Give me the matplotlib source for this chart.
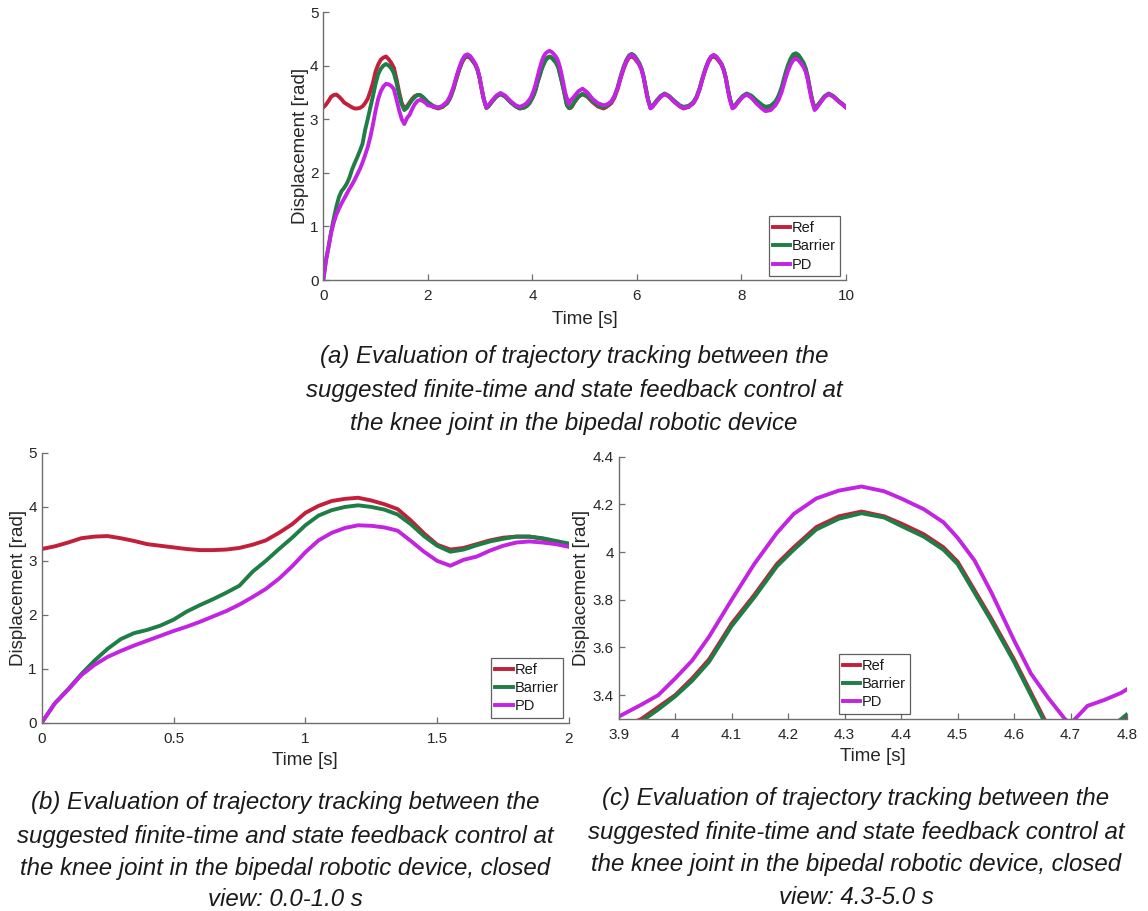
import matplotlib
matplotlib.use('Agg')
import matplotlib.pyplot as plt
from matplotlib.ticker import FormatStrFormatter

plt.rcParams['font.family'] = ['Liberation Sans', 'DejaVu Sans']

# ---------------- data ----------------
time_s = [
    0.00, 0.05, 0.10, 0.15, 0.20, 0.25, 0.30, 0.35, 0.40, 0.45,
    0.50, 0.55, 0.60, 0.65, 0.70, 0.75, 0.80, 0.85, 0.90, 0.95,
    1.00, 1.05, 1.10, 1.15, 1.20, 1.25, 1.30, 1.35, 1.40, 1.45,
    1.50, 1.55, 1.60, 1.65, 1.70, 1.75, 1.80, 1.85, 1.90, 1.95, 2.00,
    2.10, 2.20, 2.28, 2.37, 2.43, 2.49, 2.53, 2.57, 2.61, 2.66,
    2.71, 2.76, 2.81, 2.86, 2.91, 2.95, 2.99, 3.03, 3.07, 3.12,
    3.16, 3.23, 3.31, 3.39, 3.48, 3.58, 3.68, 3.76, 3.85,
    3.90, 3.94, 3.97, 4.00, 4.03, 4.06, 4.10, 4.14, 4.18, 4.21,
    4.25, 4.29, 4.33, 4.37, 4.40, 4.44, 4.475, 4.50, 4.53, 4.56,
    4.60, 4.63, 4.66, 4.69, 4.70, 4.71, 4.73, 4.76, 4.79, 4.80,
    4.88, 4.96, 5.05, 5.15, 5.25, 5.36,
    5.42, 5.51, 5.57, 5.63, 5.67, 5.71, 5.75, 5.80, 5.85, 5.90,
    5.95, 6.00, 6.05, 6.09, 6.13, 6.17, 6.21, 6.26,
    6.30, 6.37, 6.45, 6.53, 6.62, 6.72, 6.82, 6.89,
    6.99, 7.08, 7.14, 7.20, 7.24, 7.28, 7.32, 7.37, 7.42, 7.47,
    7.52, 7.57, 7.62, 7.66, 7.70, 7.74, 7.78, 7.83,
    7.87, 7.94, 8.02, 8.10, 8.19, 8.29, 8.39, 8.46,
    8.56, 8.65, 8.71, 8.77, 8.81, 8.85, 8.89, 8.94, 8.99, 9.04,
    9.09, 9.14, 9.19, 9.23, 9.27, 9.31, 9.35, 9.40,
    9.44, 9.51, 9.59, 9.67, 9.76, 9.86, 9.94, 10.00,
]

ref = [
    3.22, 3.27, 3.34, 3.42, 3.45, 3.46, 3.42, 3.37, 3.31, 3.28,
    3.25, 3.22, 3.20, 3.20, 3.21, 3.24, 3.30, 3.38, 3.52, 3.68,
    3.89, 4.02, 4.11, 4.15, 4.17, 4.12, 4.05, 3.96, 3.75, 3.51,
    3.30, 3.21, 3.24, 3.31, 3.38, 3.43, 3.45, 3.45, 3.41, 3.36, 3.30,
    3.23, 3.20, 3.23, 3.30, 3.40, 3.56, 3.70, 3.83, 3.95, 4.07,
    4.15, 4.17, 4.14, 4.08, 4.01, 3.92, 3.77, 3.56, 3.37, 3.21,
    3.24, 3.33, 3.42, 3.47, 3.42, 3.32, 3.24, 3.20, 3.22,
    3.26, 3.30, 3.35, 3.40, 3.47, 3.55, 3.70, 3.82, 3.95, 4.02,
    4.105, 4.15, 4.17, 4.15, 4.12, 4.075, 4.02, 3.96, 3.84, 3.72,
    3.55, 3.41, 3.27, 3.22, 3.21, 3.205, 3.21, 3.24, 3.295, 3.31,
    3.42, 3.47, 3.42, 3.32, 3.24, 3.20,
    3.23, 3.30, 3.40, 3.56, 3.70, 3.83, 3.95, 4.07, 4.15, 4.17,
    4.14, 4.08, 4.01, 3.92, 3.77, 3.56, 3.37, 3.21,
    3.24, 3.33, 3.42, 3.47, 3.42, 3.32, 3.24, 3.20,
    3.23, 3.30, 3.40, 3.56, 3.70, 3.83, 3.95, 4.07, 4.15, 4.17,
    4.14, 4.08, 4.01, 3.92, 3.77, 3.56, 3.37, 3.21,
    3.24, 3.33, 3.42, 3.47, 3.42, 3.32, 3.24, 3.19,
    3.21, 3.30, 3.40, 3.56, 3.70, 3.83, 3.95, 4.07, 4.14, 4.16,
    4.13, 4.07, 4.00, 3.91, 3.76, 3.55, 3.36, 3.20,
    3.23, 3.32, 3.42, 3.47, 3.42, 3.33, 3.27, 3.22,
]

barrier = [
    0.00, 0.36, 0.62, 0.90, 1.15, 1.37, 1.55, 1.66, 1.72, 1.80,
    1.91, 2.06, 2.18, 2.29, 2.41, 2.54, 2.80, 3.00, 3.22, 3.43,
    3.66, 3.84, 3.94, 4.00, 4.03, 4.00, 3.95, 3.86, 3.68, 3.46,
    3.28, 3.17, 3.21, 3.29, 3.36, 3.41, 3.45, 3.45, 3.42, 3.37, 3.32,
    3.25, 3.21, 3.23, 3.30, 3.41, 3.57, 3.71, 3.84, 3.96, 4.09,
    4.17, 4.19, 4.16, 4.09, 4.02, 3.92, 3.77, 3.56, 3.37, 3.21,
    3.24, 3.33, 3.42, 3.47, 3.42, 3.32, 3.24, 3.20, 3.22,
    3.25, 3.29, 3.34, 3.395, 3.46, 3.54, 3.69, 3.81, 3.94, 4.01,
    4.095, 4.14, 4.163, 4.145, 4.11, 4.065, 4.01, 3.95, 3.83, 3.71,
    3.54, 3.40, 3.26, 3.22, 3.21, 3.21, 3.22, 3.25, 3.30, 3.32,
    3.42, 3.47, 3.43, 3.34, 3.26, 3.22,
    3.25, 3.32, 3.43, 3.59, 3.74, 3.87, 3.99, 4.11, 4.19, 4.22,
    4.19, 4.12, 4.04, 3.94, 3.79, 3.58, 3.38, 3.22,
    3.25, 3.34, 3.43, 3.48, 3.43, 3.34, 3.26, 3.23,
    3.25, 3.32, 3.42, 3.58, 3.72, 3.85, 3.97, 4.09, 4.17, 4.19,
    4.16, 4.10, 4.03, 3.93, 3.78, 3.57, 3.38, 3.22,
    3.25, 3.34, 3.43, 3.48, 3.44, 3.35, 3.27, 3.23,
    3.25, 3.33, 3.44, 3.60, 3.75, 3.89, 4.01, 4.13, 4.21, 4.23,
    4.20, 4.13, 4.05, 3.95, 3.79, 3.57, 3.37, 3.21,
    3.24, 3.33, 3.43, 3.48, 3.43, 3.34, 3.28, 3.23,
]

pd_ctrl = [
    0.00, 0.36, 0.61, 0.88, 1.07, 1.22, 1.33, 1.43, 1.52, 1.61,
    1.70, 1.78, 1.87, 1.97, 2.07, 2.19, 2.33, 2.48, 2.67, 2.90,
    3.16, 3.38, 3.52, 3.61, 3.66, 3.65, 3.62, 3.56, 3.37, 3.17,
    3.00, 2.91, 3.02, 3.08, 3.19, 3.28, 3.34, 3.36, 3.34, 3.31, 3.26,
    3.24, 3.22, 3.25, 3.33, 3.44, 3.60, 3.74, 3.87, 3.99, 4.11,
    4.19, 4.21, 4.18, 4.11, 4.03, 3.94, 3.78, 3.57, 3.38, 3.22,
    3.26, 3.35, 3.44, 3.49, 3.44, 3.34, 3.26, 3.23, 3.27,
    3.31, 3.36, 3.40, 3.47, 3.545, 3.645, 3.80, 3.95, 4.08, 4.16,
    4.225, 4.258, 4.275, 4.255, 4.225, 4.18, 4.125, 4.06, 3.965, 3.83,
    3.63, 3.49, 3.39, 3.30, 3.28, 3.305, 3.355, 3.38, 3.41, 3.425,
    3.52, 3.57, 3.50, 3.38, 3.30, 3.26,
    3.27, 3.33, 3.43, 3.58, 3.72, 3.85, 3.97, 4.09, 4.17, 4.20,
    4.16, 4.09, 4.01, 3.92, 3.77, 3.56, 3.37, 3.20,
    3.23, 3.32, 3.41, 3.47, 3.42, 3.32, 3.24, 3.21,
    3.23, 3.30, 3.40, 3.56, 3.71, 3.84, 3.96, 4.09, 4.17, 4.20,
    4.17, 4.10, 4.02, 3.92, 3.76, 3.55, 3.36, 3.20,
    3.23, 3.32, 3.41, 3.46, 3.40, 3.29, 3.20, 3.15,
    3.17, 3.26, 3.36, 3.51, 3.65, 3.78, 3.90, 4.02, 4.10, 4.13,
    4.10, 4.04, 3.97, 3.88, 3.73, 3.52, 3.34, 3.17,
    3.21, 3.31, 3.41, 3.47, 3.42, 3.33, 3.27, 3.22,
]

series_names = ['Ref', 'Barrier', 'PD']
series_colors = ['#C21F3A', '#1F7D46', '#C224E2']

# axis settings for the three panels
xlim_a, ylim_a = (0, 10), (0, 5)
xticks_a = [0, 2, 4, 6, 8, 10]
yticks_a = [0, 1, 2, 3, 4, 5]

xlim_b, ylim_b = (0, 2), (0, 5)
xticks_b = [0, 0.5, 1, 1.5, 2]
yticks_b = [0, 1, 2, 3, 4, 5]

xlim_c, ylim_c = (3.9, 4.8), (3.3, 4.4)
xticks_c = [3.9, 4.0, 4.1, 4.2, 4.3, 4.4, 4.5, 4.6, 4.7, 4.8]
yticks_c = [3.4, 3.6, 3.8, 4.0, 4.2, 4.4]

x_label = 'Time [s]'
y_label = 'Displacement [rad]'

caption_a = ['(a) Evaluation of trajectory tracking between the',
             'suggested finite-time and state feedback control at',
             'the knee joint in the bipedal robotic device']
caption_b = ['(b) Evaluation of trajectory tracking between the',
             'suggested finite-time and state feedback control at',
             'the knee joint in the bipedal robotic device, closed',
             'view: 0.0-1.0 s']
caption_c = ['(c) Evaluation of trajectory tracking between the',
             'suggested finite-time and state feedback control at',
             'the knee joint in the bipedal robotic device, closed',
             'view: 4.3-5.0 s']

# ---------------- figure ----------------
W, H = 1148, 911
fig = plt.figure(figsize=(W / 100, H / 100), dpi=100)
fig.patch.set_facecolor('white')

TXT = '#262626'
AXC = '#6e6e6e'


def px_axes(left, top, right, bottom):
    return fig.add_axes([left / W, 1 - bottom / H, (right - left) / W, (bottom - top) / H])


def style(ax, xlim, ylim, xticks, yticks, xlab_y, ylab_x, leg_loc, leg_anchor):
    ax.plot(time_s, ref, color=series_colors[0], lw=2.8, label=series_names[0])
    ax.plot(time_s, barrier, color=series_colors[1], lw=2.8, label=series_names[1])
    ax.plot(time_s, pd_ctrl, color=series_colors[2], lw=2.8, label=series_names[2])
    ax.set_xlim(*xlim)
    ax.set_ylim(*ylim)
    ax.set_xticks(xticks)
    ax.set_yticks(yticks)
    ax.xaxis.set_major_formatter(FormatStrFormatter('%g'))
    ax.yaxis.set_major_formatter(FormatStrFormatter('%g'))
    for sp in ('top', 'right'):
        ax.spines[sp].set_visible(False)
    for sp in ('left', 'bottom'):
        ax.spines[sp].set_color(AXC)
        ax.spines[sp].set_linewidth(1.0)
    ax.tick_params(direction='in', length=4, width=0.9, color=AXC,
                   labelsize=11, labelcolor=TXT)
    ax.tick_params(axis='x', pad=6.5)
    ax.tick_params(axis='y', pad=3.5)
    ax.set_xlabel(x_label, fontsize=13.5, color=TXT)
    ax.set_ylabel(y_label, fontsize=13.5, color=TXT)
    ax.xaxis.set_label_coords(0.5, xlab_y)
    ax.yaxis.set_label_coords(ylab_x, 0.5)
    leg = ax.legend(loc=leg_loc, bbox_to_anchor=leg_anchor, fontsize=10.5,
                    frameon=True, fancybox=False, borderpad=0.3,
                    handlelength=1.2, handletextpad=0.1, labelspacing=0.3,
                    borderaxespad=0.0)
    leg.get_frame().set_edgecolor('#3a3a3a')
    leg.get_frame().set_linewidth(0.9)
    for t in leg.get_texts():
        t.set_color('#1a1a1a')


ax_a = px_axes(323.3, 12, 846, 280)
style(ax_a, xlim_a, ylim_a, xticks_a, yticks_a, -0.116, -0.028, 'lower right', (0.989, 0.015))

ax_b = px_axes(41.7, 453, 569, 722.7)
style(ax_b, xlim_b, ylim_b, xticks_b, yticks_b, -0.109, -0.028, 'lower right', (0.988, 0.018))

ax_c = px_axes(618.7, 456.7, 1127, 719)
style(ax_c, xlim_c, ylim_c, xticks_c, yticks_c, -0.111, -0.056, 'lower center', (0.503, 0.02))


def caption(lines, xc, ys):
    for line, y in zip(lines, ys):
        fig.text(xc / W, 1 - y / H, line, ha='center', va='center',
                 fontsize=17.3, style='italic', color='#1a1a1a')


caption(caption_a, 574, [356, 390, 423])
caption(caption_b, 285, [803, 836, 869, 900])
caption(caption_c, 856, [798, 832, 865, 897])

fig.savefig('out.png', dpi=100)
